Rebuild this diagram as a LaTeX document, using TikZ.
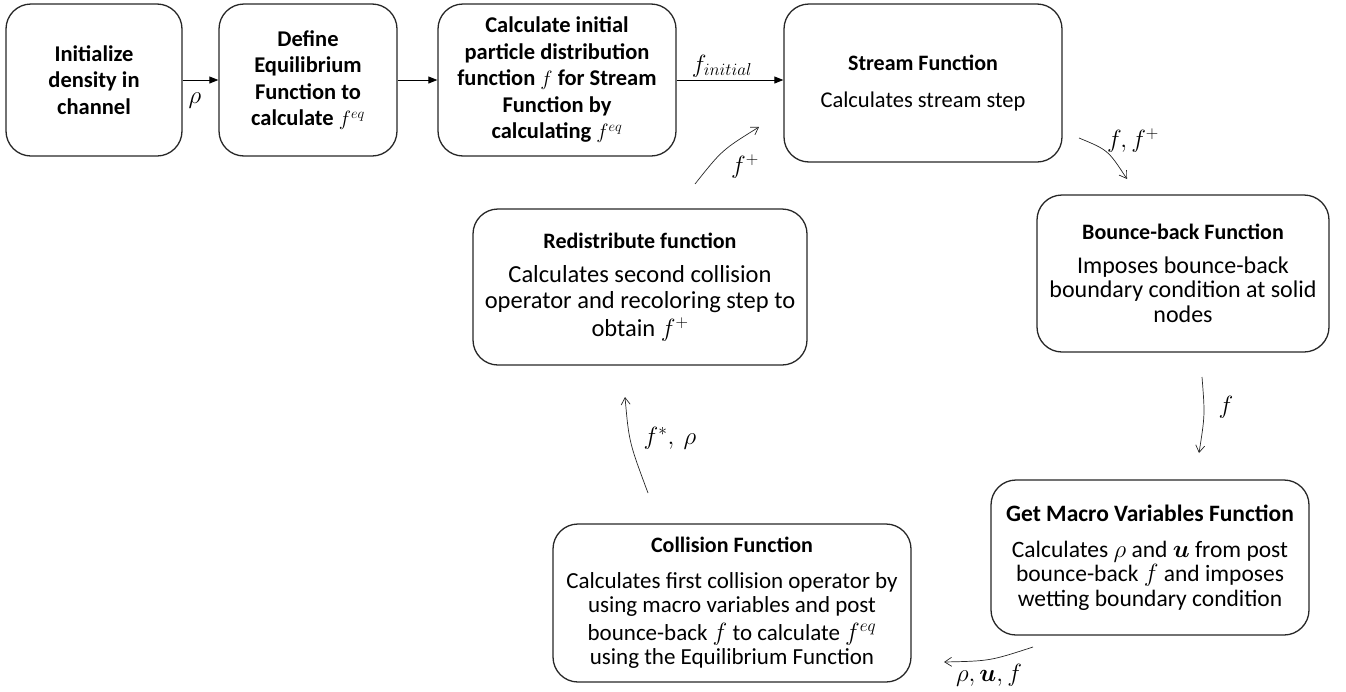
\documentclass[tikz,border=0pt]{standalone}
\usepackage{fontspec}
\usepackage{bm}
\setmainfont{Carlito}
\usetikzlibrary{arrows.meta}
\newcommand{\ttl}[1]{{\fontsize{22}{24}\selectfont\bfseries #1}}
\tikzset{
  box/.style={draw=black!85, line width=1.3pt, rounded corners=25pt, align=center, inner sep=0pt,
    font=\fontsize{22.5}{24.5}\selectfont},
  topbox/.style={box, font=\fontsize{22.5}{26.5}\selectfont\bfseries},
  flow/.style={line width=0.8pt, -{Triangle[length=9pt,width=7pt]}},
  loop/.style={line width=0.7pt, black!85, -{Straight Barb[length=7pt,width=9pt,line width=0.7pt]}},
  lab/.style={inner sep=0pt, font=\fontsize{23.5}{24}\selectfont}
}
\begin{document}
\begin{tikzpicture}[x=1pt,y=-1pt]
\useasboundingbox (0,0) rectangle (1346,691);
% top row
\node[topbox, minimum width=176pt, minimum height=152pt] (b1) at (94,80) {Initialize\\density in\\channel};
\node[topbox, minimum width=178pt, minimum height=152pt] (b2) at (308,80) {Define\\Equilibrium\\Function to\\calculate $f^{eq}$};
\node[topbox, minimum width=238pt, minimum height=152pt] (b3) at (557,80) {Calculate initial\\particle distribution\\function $f$ for Stream\\Function by\\calculating $f^{eq}$};
\node[box, minimum width=278pt, minimum height=158pt] (b4) at (923,83) {\ttl{Stream Function}\\[13pt]Calculates stream step};
% right column
\node[box, minimum width=292pt, minimum height=157pt, font=\fontsize{24}{24.5}\selectfont] (b5) at (1183,273.5) {\ttl{Bounce-back Function}\\[9pt]Imposes bounce-back\\boundary condition at solid\\nodes};
\node[box, minimum width=318pt, minimum height=155pt, font=\fontsize{23.5}{24.5}\selectfont] (b6) at (1150,557.5) {{\fontsize{23.5}{24}\selectfont\bfseries Get Macro Variables Function}\\[11pt]Calculates $\rho$ and $\bm{u}$ from post\\bounce-back $f$ and imposes\\wetting boundary condition};
% left loop
\node[box, minimum width=358pt, minimum height=158pt, font=\fontsize{23}{24.5}\selectfont] (b7) at (732,603) {\ttl{Collision Function}\\[11pt]Calculates first collision operator by\\using macro variables and post\\[3pt]bounce-back $f$ to calculate $f^{eq}$\\using the Equilibrium Function};
\node[box, minimum width=334pt, minimum height=156pt, font=\fontsize{24.5}{25.5}\selectfont] (b8) at (640,287) {\ttl{Redistribute function}\\[9pt]Calculates second collision\\operator and recoloring step to\\[3pt]obtain $f^{+}$};

% straight arrows
\draw[flow] (b1) -- (b2);
\draw[flow] (b2) -- (b3);
\draw[flow] (b3.east) -- (b3.east -| b4.west);

% free ends of curved arrows
\coordinate (s1) at (1079,138); \coordinate (e1) at (1127,179);
\coordinate (s2) at (1202,377); \coordinate (e2) at (1199,453);
\coordinate (s3) at (1033,647); \coordinate (e3) at (944,662);
\coordinate (s4) at (648,493);  \coordinate (e4) at (625,397);
\coordinate (s5) at (695,184);  \coordinate (e5) at (759,127);

\draw[loop] (s1) .. controls (1108,150) .. (e1);
\draw[loop] (s2) .. controls (1205,415) .. (e2);
\draw[loop] (s3) .. controls (990,661) .. (e3);
\draw[loop] (s4) .. controls (629,442) .. (e4);
\draw[loop] (s5) .. controls (722,150) .. (e5);

% labels
\node[lab] (l1) at (195,101) {$\rho$};
\node[lab] (l2) at (722,66) {$f_{initial}$};
\node[lab] (l3) at (1133,141) {$f, f^{+}$};
\node[lab] (l4) at (1226,407) {$f$};
\node[lab] (l5) at (989,675) {$\rho, \bm{u}, f$};
\node[lab] (l6) at (670,438) {$f^{*},\ \rho$};
\node[lab] (l7) at (745,167) {$f^{+}$};
\end{tikzpicture}
\end{document}
